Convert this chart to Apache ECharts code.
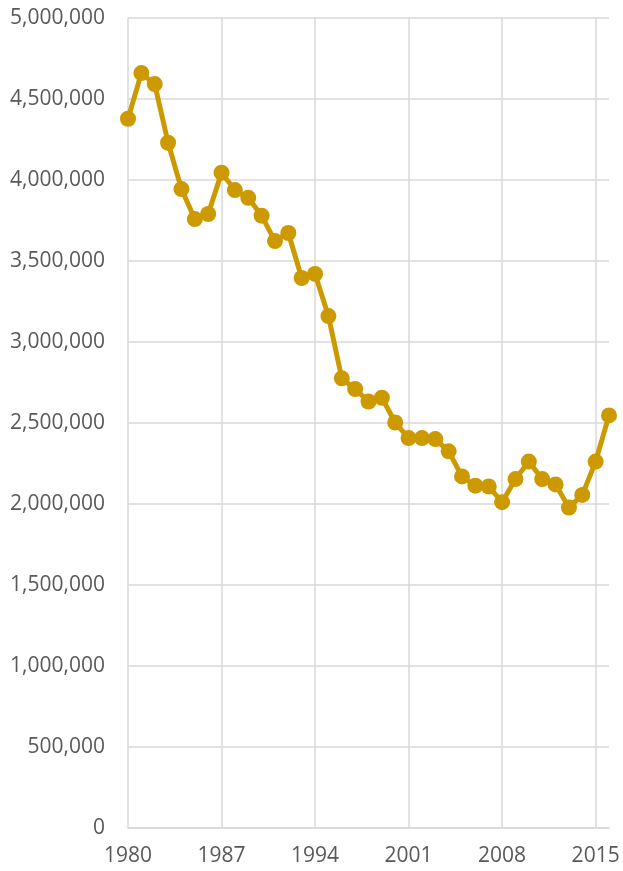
<!DOCTYPE html>
<html>
<head>
<meta charset="utf-8">
<script src="https://cdn.jsdelivr.net/npm/echarts@6/dist/echarts.min.js"></script>
<style>
html,body{margin:0;padding:0;background:#fff;}
#chart{width:623px;height:871px;}
</style>
</head>
<body>
<div id="chart"></div>
<script>
const years = [];
for (let y = 1980; y <= 2016; y++) years.push(String(y));
const values = [
  4378000, 4660000, 4592000, 4230000, 3944000, 3759000, 3790000, 4045000,
  3938000, 3890000, 3780000, 3623000, 3673000, 3395000, 3420000, 3160000,
  2776000, 2710000, 2632000, 2656000, 2503000, 2407000, 2407000, 2401000,
  2325000, 2170000, 2113000, 2108000, 2011000, 2154000, 2262000, 2154000,
  2121000, 1978000, 2056000, 2262000, 2547000
];
const yTicks = { min: 0, max: 5000000, interval: 500000 };

const fmt = v => v.toLocaleString('en-US');
const chart = echarts.init(document.getElementById('chart'), null, { renderer: 'canvas' });
chart.setOption({
  animation: false,
  grid: { left: 128, right: 14, top: 18, bottom: 43 },
  xAxis: {
    type: 'category',
    data: years,
    boundaryGap: false,
    axisLine: { show: true, lineStyle: { color: '#d9d9d9', width: 1.5 } },
    axisTick: { show: false },
    axisLabel: {
      interval: (i) => i % 7 === 0,
      color: '#595959',
      fontFamily: 'Open Sans',
      fontSize: 21,
      margin: 18
    },
    splitLine: {
      show: true,
      interval: (i) => i % 7 === 0,
      lineStyle: { color: '#d9d9d9', width: 1.5 }
    }
  },
  yAxis: {
    type: 'value',
    min: yTicks.min,
    max: yTicks.max,
    interval: yTicks.interval,
    axisLine: { show: false },
    axisTick: { show: false },
    axisLabel: {
      formatter: fmt,
      color: '#595959',
      fontFamily: 'Open Sans',
      fontSize: 21,
      margin: 23
    },
    splitLine: { show: true, lineStyle: { color: '#d9d9d9', width: 1.5 } }
  },
  series: [{
    type: 'line',
    data: values,
    symbol: 'circle',
    symbolSize: 16,
    showAllSymbol: true,
    lineStyle: { color: '#cc9900', width: 5 },
    itemStyle: { color: '#cc9900' }
  }]
});
</script>
</body>
</html>
